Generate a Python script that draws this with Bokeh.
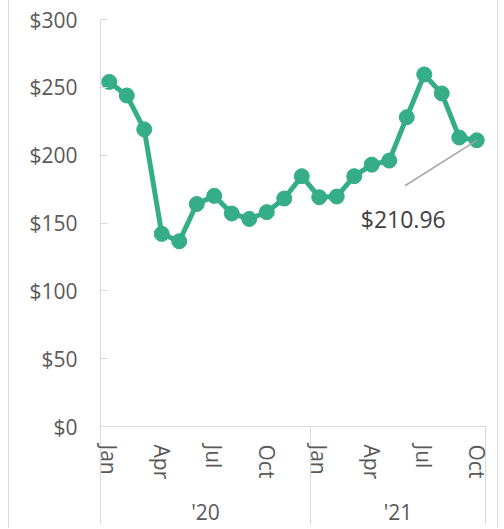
from bokeh.plotting import figure
from bokeh.models import (Range1d, LinearAxis, FixedTicker, NumeralTickFormatter,
                          Label, ColumnDataSource)
from bokeh.embed import file_html
from bokeh.resources import INLINE

# ---- data ----
months = ["Jan", "Feb", "Mar", "Apr", "May", "Jun", "Jul", "Aug", "Sep", "Oct", "Nov", "Dec",
          "Jan", "Feb", "Mar", "Apr", "May", "Jun", "Jul", "Aug", "Sep", "Oct"]
years = ["'20"] * 12 + ["'21"] * 10
prices = [254, 244, 219, 142, 136.5, 164, 170, 157, 153, 158, 168, 184.5,
          169, 169.5, 184.5, 193, 196, 228, 259.5, 245.5, 213, 210.96]
shown_months = ["Jan", "Apr", "Jul", "Oct"]
year_labels = ["'20", "'21"]
y_ticks = [0, 50, 100, 150, 200, 250, 300]
callout_text = "$210.96"

idx = list(range(len(prices)))
src = ColumnDataSource(dict(x=idx, y=prices))

GREEN = "#35AD87"
GRID = "#d9d9d9"
TXT = "#595959"
FONT = "Open Sans"

p = figure(width=490, height=528, output_backend="svg", toolbar_location=None,
           x_range=Range1d(-0.5, len(prices) - 0.5), y_range=Range1d(0, 300),
           x_axis_type=None, y_axis_type=None,
           min_border_left=91, min_border_right=14, min_border_top=19, min_border_bottom=101)
p.styles = {"border-left": "1px solid #d9d9d9", "border-right": "1px solid #d9d9d9",
            "margin-left": "8px"}
p.outline_line_color = None
p.xgrid.visible = False
p.ygrid.visible = False

# y axis
yax = LinearAxis(ticker=FixedTicker(ticks=y_ticks),
                 formatter=NumeralTickFormatter(format="$0"))
yax.axis_line_color = GRID
yax.major_tick_line_color = GRID
yax.major_tick_in = 7
yax.major_tick_out = 0
yax.minor_tick_line_color = None
yax.major_label_standoff = 23
yax.major_label_text_font = FONT
yax.major_label_text_font_size = "21px"
yax.major_label_text_color = TXT
p.add_layout(yax, "left")

# month axis (group separators drawn as long minor ticks)
month_ticks = [i for i, m in enumerate(months) if m in shown_months]
boundaries = [-0.5]
for i in range(1, len(years)):
    if years[i] != years[i - 1]:
        boundaries.append(i - 0.5)
boundaries.append(len(years) - 0.5)
mx = LinearAxis(ticker=FixedTicker(ticks=month_ticks, minor_ticks=boundaries))
mx.major_label_overrides = {i: months[i] for i in month_ticks}
mx.major_label_orientation = "vertical"
mx.axis_line_color = GRID
mx.major_tick_line_color = None
mx.minor_tick_line_color = GRID
mx.minor_tick_in = 0
mx.minor_tick_out = 98
mx.major_label_standoff = 18 - 98
mx.major_label_text_font = FONT
mx.major_label_text_font_size = "21px"
mx.major_label_text_color = TXT
p.add_layout(mx, "below")

# year axis
centers = []
for yl in year_labels:
    ii = [i for i, y in enumerate(years) if y == yl]
    centers.append((ii[0] + ii[-1]) / 2)
yx = LinearAxis(ticker=FixedTicker(ticks=centers))
yx.major_label_overrides = {c: yl for c, yl in zip(centers, year_labels)}
yx.axis_line_color = None
yx.major_tick_line_color = None
yx.minor_tick_line_color = None
yx.major_label_standoff = 9
yx.major_label_text_font = FONT
yx.major_label_text_font_size = "21px"
yx.major_label_text_color = TXT
p.add_layout(yx, "below")

# series
p.line("x", "y", source=src, line_color=GREEN, line_width=5)
p.scatter("x", "y", source=src, size=15, fill_color=GREEN, line_color=GREEN)

# callout for last value
lx, ly = idx[-1], prices[-1]
p.segment(x0=[lx - 4.1], y0=[ly - 33.5], x1=[lx], y1=[ly], line_color="#a6a6a6", line_width=1.5)
p.add_layout(Label(x=lx, y=ly, x_offset=-116, y_offset=-79, text=callout_text,
                   text_font=FONT, text_font_size="23px", text_color="#404040",
                   text_baseline="alphabetic"))

open("out.html", "w").write(file_html(p, INLINE))
